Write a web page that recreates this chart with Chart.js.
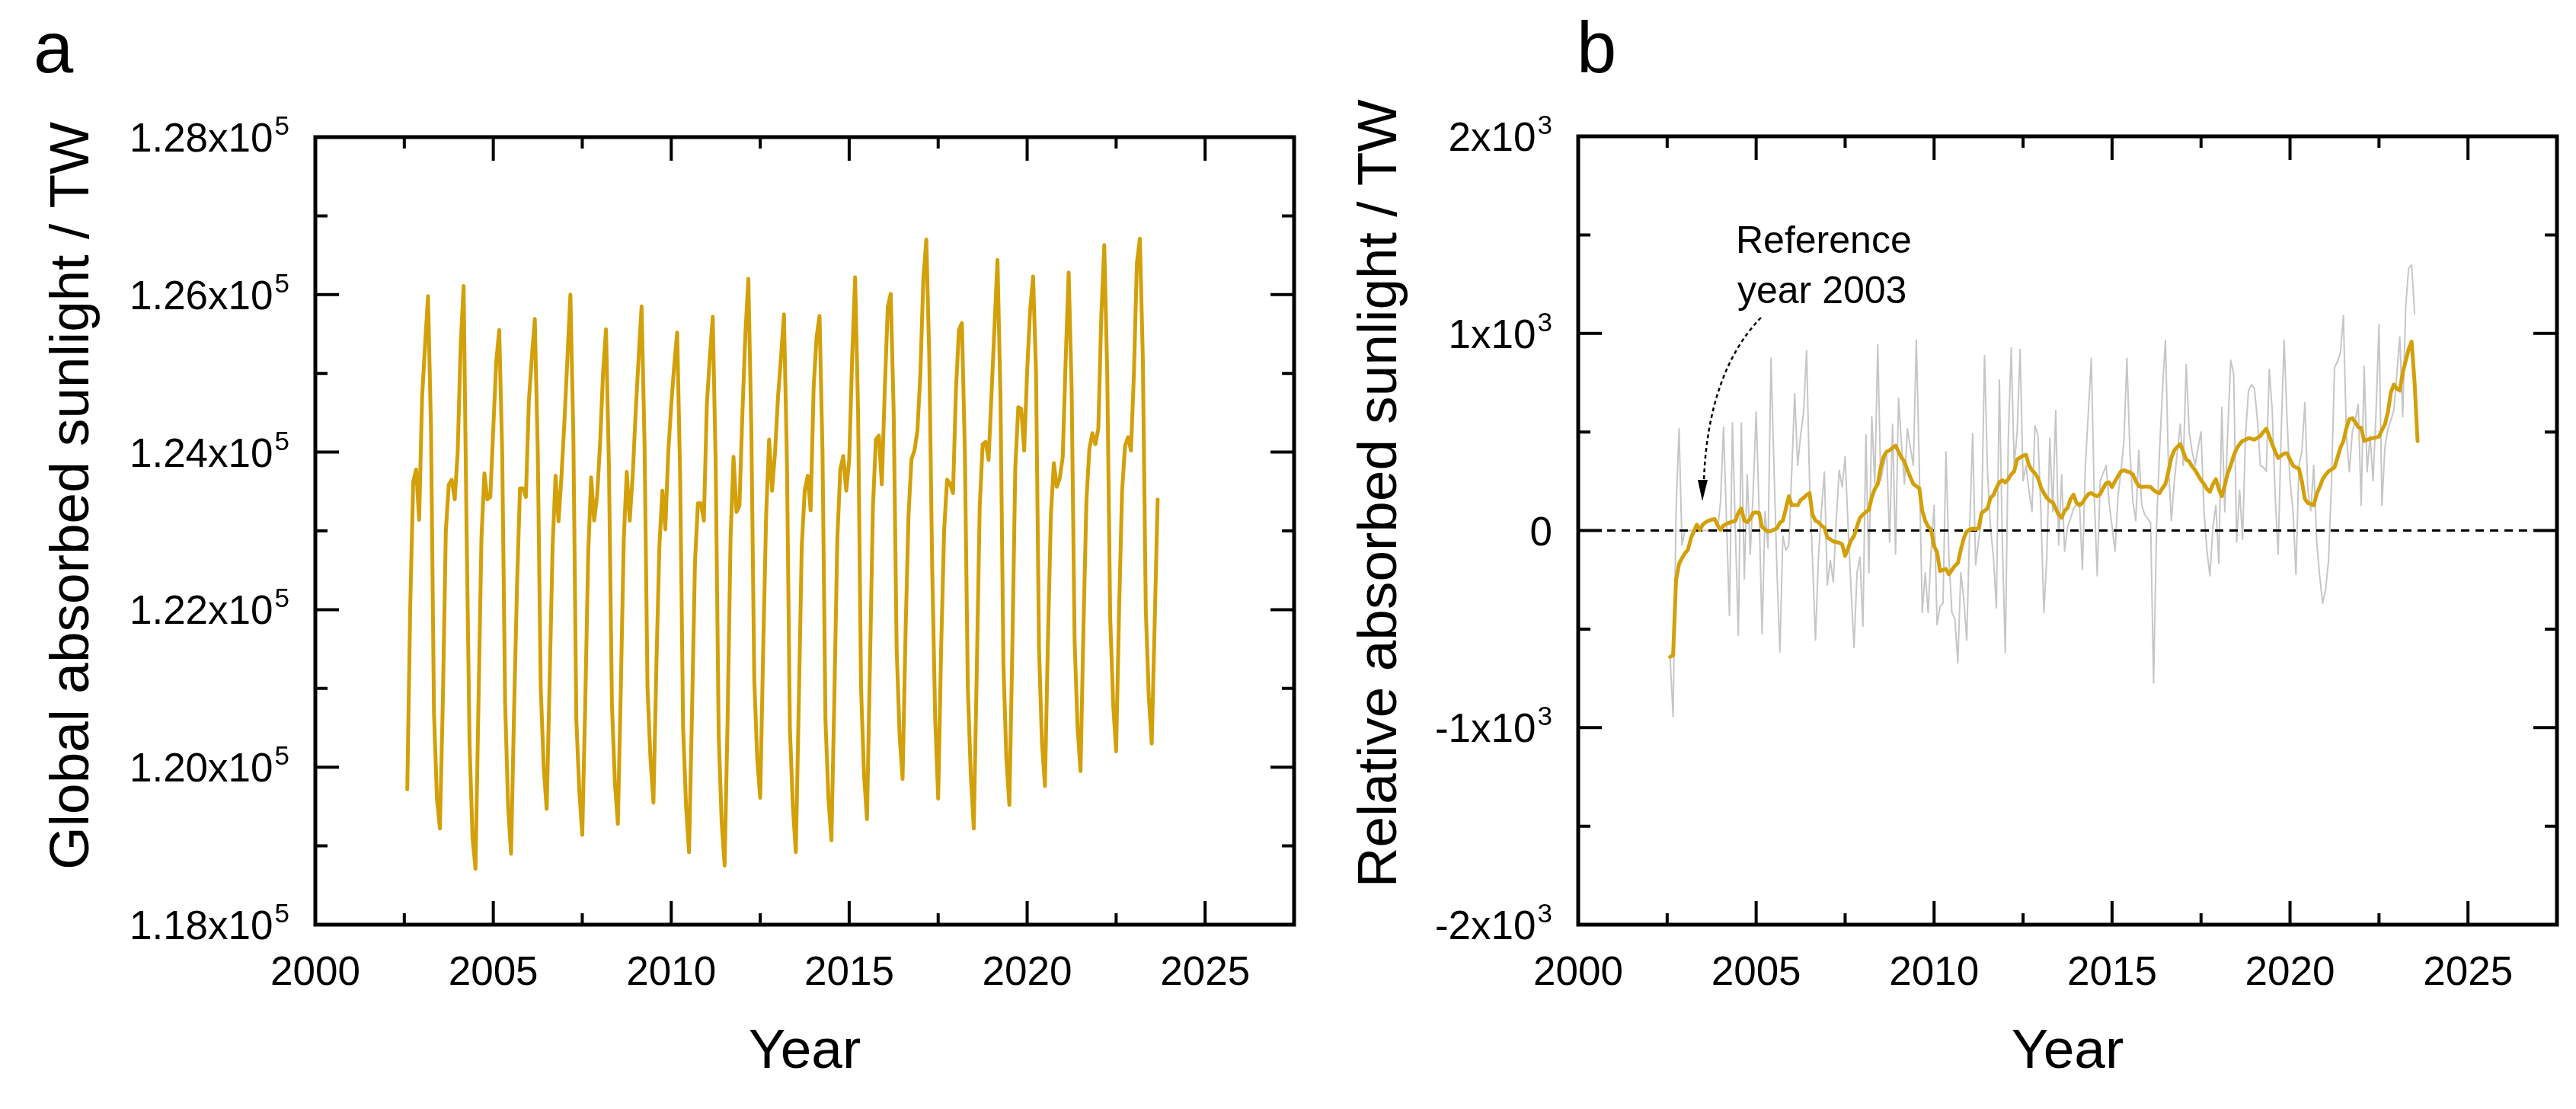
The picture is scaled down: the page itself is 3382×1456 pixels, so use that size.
<!DOCTYPE html>
<html><head><meta charset="utf-8">
<script src="https://cdn.jsdelivr.net/npm/chart.js@4.4.1/dist/chart.umd.min.js"></script>
<style>
html,body{margin:0;padding:0;background:#fff;width:3382px;height:1456px;overflow:hidden}
canvas{position:absolute;top:0}
#ca{left:0}
#cb{left:1720px}
</style></head><body>
<canvas id="ca" width="1720" height="1456"></canvas>
<canvas id="cb" width="1662" height="1456"></canvas>
<script>
// ---- data (monthly, first month = Aug 2002) ----
const startYear = 2002, startMonth = 8;

// Panel a: global absorbed sunlight, TW
const globalAbsorbedTW = [
  119720,122050,123620,123780,123140,
  124700,125360,125980,124300,120700,119600,119220,120850,123000,123590,123650,123400,
  124000,125360,126110,123000,120300,119100,118710,120800,122900,123730,123400,123430,
  124300,125150,125550,124000,120800,119500,118900,120700,122300,123540,123540,123430,
  124650,125200,125690,124000,121000,120000,119470,121100,122800,123700,123120,123700,
  124400,125200,126000,124200,120600,119700,119140,120800,122700,123680,123130,123440,
  124100,125000,125560,123800,120800,119800,119280,121000,122900,123750,123130,123700,
  124500,125200,125850,124100,121000,120100,119550,121300,122800,123510,123020,124000,
  124600,125100,125520,123700,120500,119500,118920,120700,122600,123350,123350,123130,
  124600,125200,125720,123800,120400,119300,118750,120600,122900,123940,123240,123320,
  124500,125500,126200,124300,121100,120100,119610,121500,123200,124160,123510,124000,
  124700,125200,125750,123900,120500,119500,118920,120800,122800,123510,123700,123260,
  124810,125460,125730,124000,120600,119600,119070,120900,122900,123780,123950,123510,
  123900,125200,126220,124500,121000,119900,119340,121300,123300,124160,124210,123590,
  124800,125840,126010,124500,121500,120400,119850,121700,123200,123910,124020,124270,
  125000,126200,126700,125200,122500,120600,119600,121500,123000,123650,123600,123480,
  124800,125550,125640,124000,121000,119900,119220,121200,123300,124100,124130,123900,
  124750,125600,126440,124700,121300,120100,119520,121500,123800,124570,124550,124020,
  125030,125800,126230,125000,121500,120300,119760,121600,123200,123860,123560,123670,
  123940,125190,126280,124800,121600,120500,119950,121800,123400,124050,124240,124100,
  124300,125730,126630,125000,121900,120800,120200,122000,123500,124080,124190,124020,
  125000,126400,126710,125200,122000,120900,120300,121830,123400
];

// Panel b: monthly anomaly relative to 2003, TW (grey)
const relativeMonthlyTW = [
  -650,-944,100,516,-74,
  0,0,0,0,0,0,0,0,0,0,0,0,
  150,524,50,-431,547,0,-532,547,-245,283,-121,200,
  601,100,-525,96,-90,873,330,-200,-618,-28,-100,-74,
  300,694,330,485,600,912,252,-150,-556,-136,100,298,
  -276,-152,-260,50,306,220,376,19,-300,-594,-214,-135,
  -486,485,-214,578,236,943,252,330,400,-59,539,-121,
  671,438,236,516,420,330,966,330,-416,-214,-416,-100,
  128,-478,-385,-369,399,-136,-416,-450,-672,-214,-350,-556,
  19,492,-175,-50,50,888,300,19,-136,-393,764,-59,
  -618,454,927,330,500,919,252,330,200,96,531,485,
  100,-416,-136,469,96,609,-74,283,-105,19,60,112,
  130,143,-198,330,600,873,174,-230,252,290,330,143,
  20,-105,174,300,454,873,407,150,50,407,128,81,
  60,40,-773,19,400,718,966,330,50,252,400,539,
  330,842,500,400,330,420,500,96,-105,-230,19,128,
  -167,624,96,500,865,795,-59,205,-44,485,710,740,
  720,562,330,320,300,818,609,174,-121,485,966,562,
  250,100,-222,330,400,648,205,100,330,-59,-230,-369,
  -300,-150,252,826,857,904,1090,485,298,500,560,640,
  128,834,298,480,252,600,1044,128,423,516,560,609,
  795,982,578,1137,1331,1347,1100
];

// Panel b: 12-month running mean, TW (gold)
const relativeRunningMeanTW = [
  -641,-633,-250,-170,-140,
  -115,-98,-40,-5,30,3,30,42,50,55,58,27,
  3,25,34,40,45,50,90,112,50,42,60,89,
  92,89,19,5,-5,-3,5,11,40,50,110,174,
  128,130,128,155,166,180,190,81,50,42,25,15,
  -35,-45,-55,-59,-62,-70,-129,-90,-50,-28,20,65,
  80,95,104,170,210,236,320,376,400,407,420,430,
  400,370,350,306,270,236,225,215,100,50,20,3,
  -80,-110,-206,-200,-195,-222,-200,-180,-165,-98,-40,-5,
  5,10,8,11,89,100,112,165,180,215,245,255,
  244,260,285,300,361,370,380,384,330,306,290,267,
  220,190,166,150,143,110,80,65,100,115,160,182,
  140,128,140,165,185,190,180,174,185,215,240,244,
  221,250,275,300,306,300,295,285,250,225,221,222,
  222,221,205,195,190,215,236,300,370,407,425,438,
  400,360,350,325,306,280,255,236,210,197,235,260,
  210,174,230,290,330,380,415,438,455,460,469,465,
  461,470,480,500,516,480,438,400,368,380,390,392,
  360,330,320,314,250,160,140,135,128,185,220,260,
  283,300,310,320,370,420,454,520,565,570,550,525,
  520,454,460,465,469,472,477,510,539,600,700,741,
  720,710,800,860,920,958,750,454
];

// axis ticks and labels
const xRange = [2000, 2027.5];
const xTicks = [2000, 2005, 2010, 2015, 2020, 2025];
const xMinorTicks = [2002.5, 2007.5, 2012.5, 2017.5, 2022.5, 2027.5];
const yRangeA = [118000, 128000];
const yTicksA = [118000, 120000, 122000, 124000, 126000, 128000];
const yTickLabelsA = [["1.18x10","5"],["1.20x10","5"],["1.22x10","5"],["1.24x10","5"],["1.26x10","5"],["1.28x10","5"]];
const yMinorTicksA = [119000, 121000, 123000, 125000, 127000];
const yRangeB = [-2000, 2000];
const yTicksB = [-2000, -1000, 0, 1000, 2000];
const yTickLabelsB = [["-2x10","3"],["-1x10","3"],["0",""],["1x10","3"],["2x10","3"]];
const yMinorTicksB = [-1500, -500, 500, 1500];
const referenceLevel = [0, 0];

// ---- helpers ----
const GOLD = '#D3A00A';
const GREY = '#C6C6C6';
const FONT = '"Liberation Sans", Arial, Helvetica, sans-serif';
function monthX(i){ return startYear + (startMonth - 1)/12 + i/12; }
function toPoints(arr){ return arr.map((v,i)=>({x: monthX(i), y: v})); }

function decor(o){
  return {
    id: 'decor_' + o.letter,
    afterDraw(chart){
      const ctx = chart.ctx, a = chart.chartArea, xs = chart.scales.x, ys = chart.scales.y;
      ctx.save();
      ctx.strokeStyle = '#000'; ctx.fillStyle = '#000';
      // tick marks (inward, all four sides)
      ctx.lineWidth = 4; ctx.lineCap = 'butt';
      const tx = (v, len) => { const p = xs.getPixelForValue(v);
        ctx.beginPath(); ctx.moveTo(p, a.bottom); ctx.lineTo(p, a.bottom - len);
        ctx.moveTo(p, a.top); ctx.lineTo(p, a.top + len); ctx.stroke(); };
      const ty = (v, len) => { const p = ys.getPixelForValue(v);
        ctx.beginPath(); ctx.moveTo(a.left, p); ctx.lineTo(a.left + len, p);
        ctx.moveTo(a.right, p); ctx.lineTo(a.right - len, p); ctx.stroke(); };
      xTicks.forEach(v => tx(v, 31));
      xMinorTicks.forEach(v => tx(v, 15));
      o.yTicks.forEach(v => ty(v, 31));
      o.yMinor.forEach(v => ty(v, 16));
      // frame
      ctx.lineWidth = 5; ctx.lineJoin = 'miter';
      ctx.strokeRect(a.left, a.top, a.right - a.left, a.bottom - a.top);
      // x tick labels
      ctx.font = '53px ' + FONT; ctx.textAlign = 'center'; ctx.textBaseline = 'alphabetic';
      xTicks.forEach(v => ctx.fillText(String(v), xs.getPixelForValue(v), a.bottom + 79));
      // y tick labels with superscript exponent
      o.yTicks.forEach((v, i) => {
        const [main, sup] = o.yLabels[i];
        const p = ys.getPixelForValue(v);
        const rx = a.left - 34;
        let supW = 0;
        if (sup) {
          ctx.font = '35px ' + FONT; ctx.textAlign = 'right';
          supW = ctx.measureText(sup).width;
          ctx.fillText(sup, rx, p - 3);
        }
        ctx.font = '53px ' + FONT; ctx.textAlign = 'right';
        ctx.fillText(main, sup ? rx - supW - 2 : rx, p + 19);
      });
      // axis titles
      ctx.font = '73px ' + FONT; ctx.textAlign = 'center';
      ctx.fillText('Year', (a.left + a.right)/2, a.bottom + 188);
      ctx.save();
      ctx.translate(o.yTitleX, o.yTitleY); ctx.rotate(-Math.PI/2);
      ctx.fillText(o.yTitle, 0, 0);
      ctx.restore();
      // panel letter
      ctx.font = '94px ' + FONT; ctx.textAlign = 'left';
      ctx.fillText(o.letter, o.letterX, 95);
      if (o.annot) o.annot(ctx, a, xs, ys);
      ctx.restore();
    }
  };
}

function baseOptions(pad, yRange){
  return {
    responsive: false, animation: false, devicePixelRatio: 1,
    layout: { padding: pad },
    plugins: { legend: { display: false }, tooltip: { enabled: false } },
    elements: { point: { radius: 0 }, line: { tension: 0, borderJoinStyle: 'round', borderCapStyle: 'round' } },
    scales: {
      x: { type: 'linear', min: xRange[0], max: xRange[1], display: false },
      y: { type: 'linear', min: yRange[0], max: yRange[1], display: false }
    }
  };
}

// ---- panel a ----
new Chart(document.getElementById('ca'), {
  type: 'line',
  data: { datasets: [{
    data: toPoints(globalAbsorbedTW), borderColor: GOLD, borderWidth: 5, fill: false
  }]},
  options: baseOptions({ left: 414, top: 180, right: 21, bottom: 242 }, yRangeA),
  plugins: [decor({
    letter: 'a', letterX: 44, yTicks: yTicksA, yMinor: yMinorTicksA, yLabels: yTickLabelsA,
    yTitle: 'Global absorbed sunlight / TW', yTitleX: 116, yTitleY: 651
  })]
});

// ---- panel b ----
new Chart(document.getElementById('cb'), {
  type: 'line',
  data: { datasets: [
    { data: toPoints(relativeRunningMeanTW), borderColor: GOLD, borderWidth: 5, fill: false, order: 1 },
    { data: [{x: xRange[0], y: referenceLevel[0]}, {x: xRange[1], y: referenceLevel[1]}],
      borderColor: '#000', borderWidth: 3, borderDash: [11, 8], borderCapStyle: 'butt', fill: false, order: 2 },
    { data: toPoints(relativeMonthlyTW), borderColor: GREY, borderWidth: 2, fill: false, order: 3 }
  ]},
  options: baseOptions({ left: 352, top: 179, right: 25, bottom: 242 }, yRangeB),
  plugins: [decor({
    letter: 'b', letterX: 350, yTicks: yTicksB, yMinor: yMinorTicksB, yLabels: yTickLabelsB,
    yTitle: 'Relative absorbed sunlight / TW', yTitleX: 113, yTitleY: 648,
    annot(ctx){
      ctx.font = '50px ' + FONT; ctx.textAlign = 'left';
      ctx.fillText('Reference', 559, 332);
      ctx.fillText('year 2003', 561, 398);
      ctx.lineWidth = 2.5; ctx.setLineDash([5, 4]);
      ctx.beginPath(); ctx.moveTo(592, 417);
      ctx.bezierCurveTo(545, 465, 520, 540, 517, 632); ctx.stroke();
      ctx.setLineDash([]);
      ctx.beginPath(); ctx.moveTo(509, 630); ctx.lineTo(522, 630); ctx.lineTo(515, 658); ctx.closePath(); ctx.fill();
    }
  })]
});
</script>
</body></html>
